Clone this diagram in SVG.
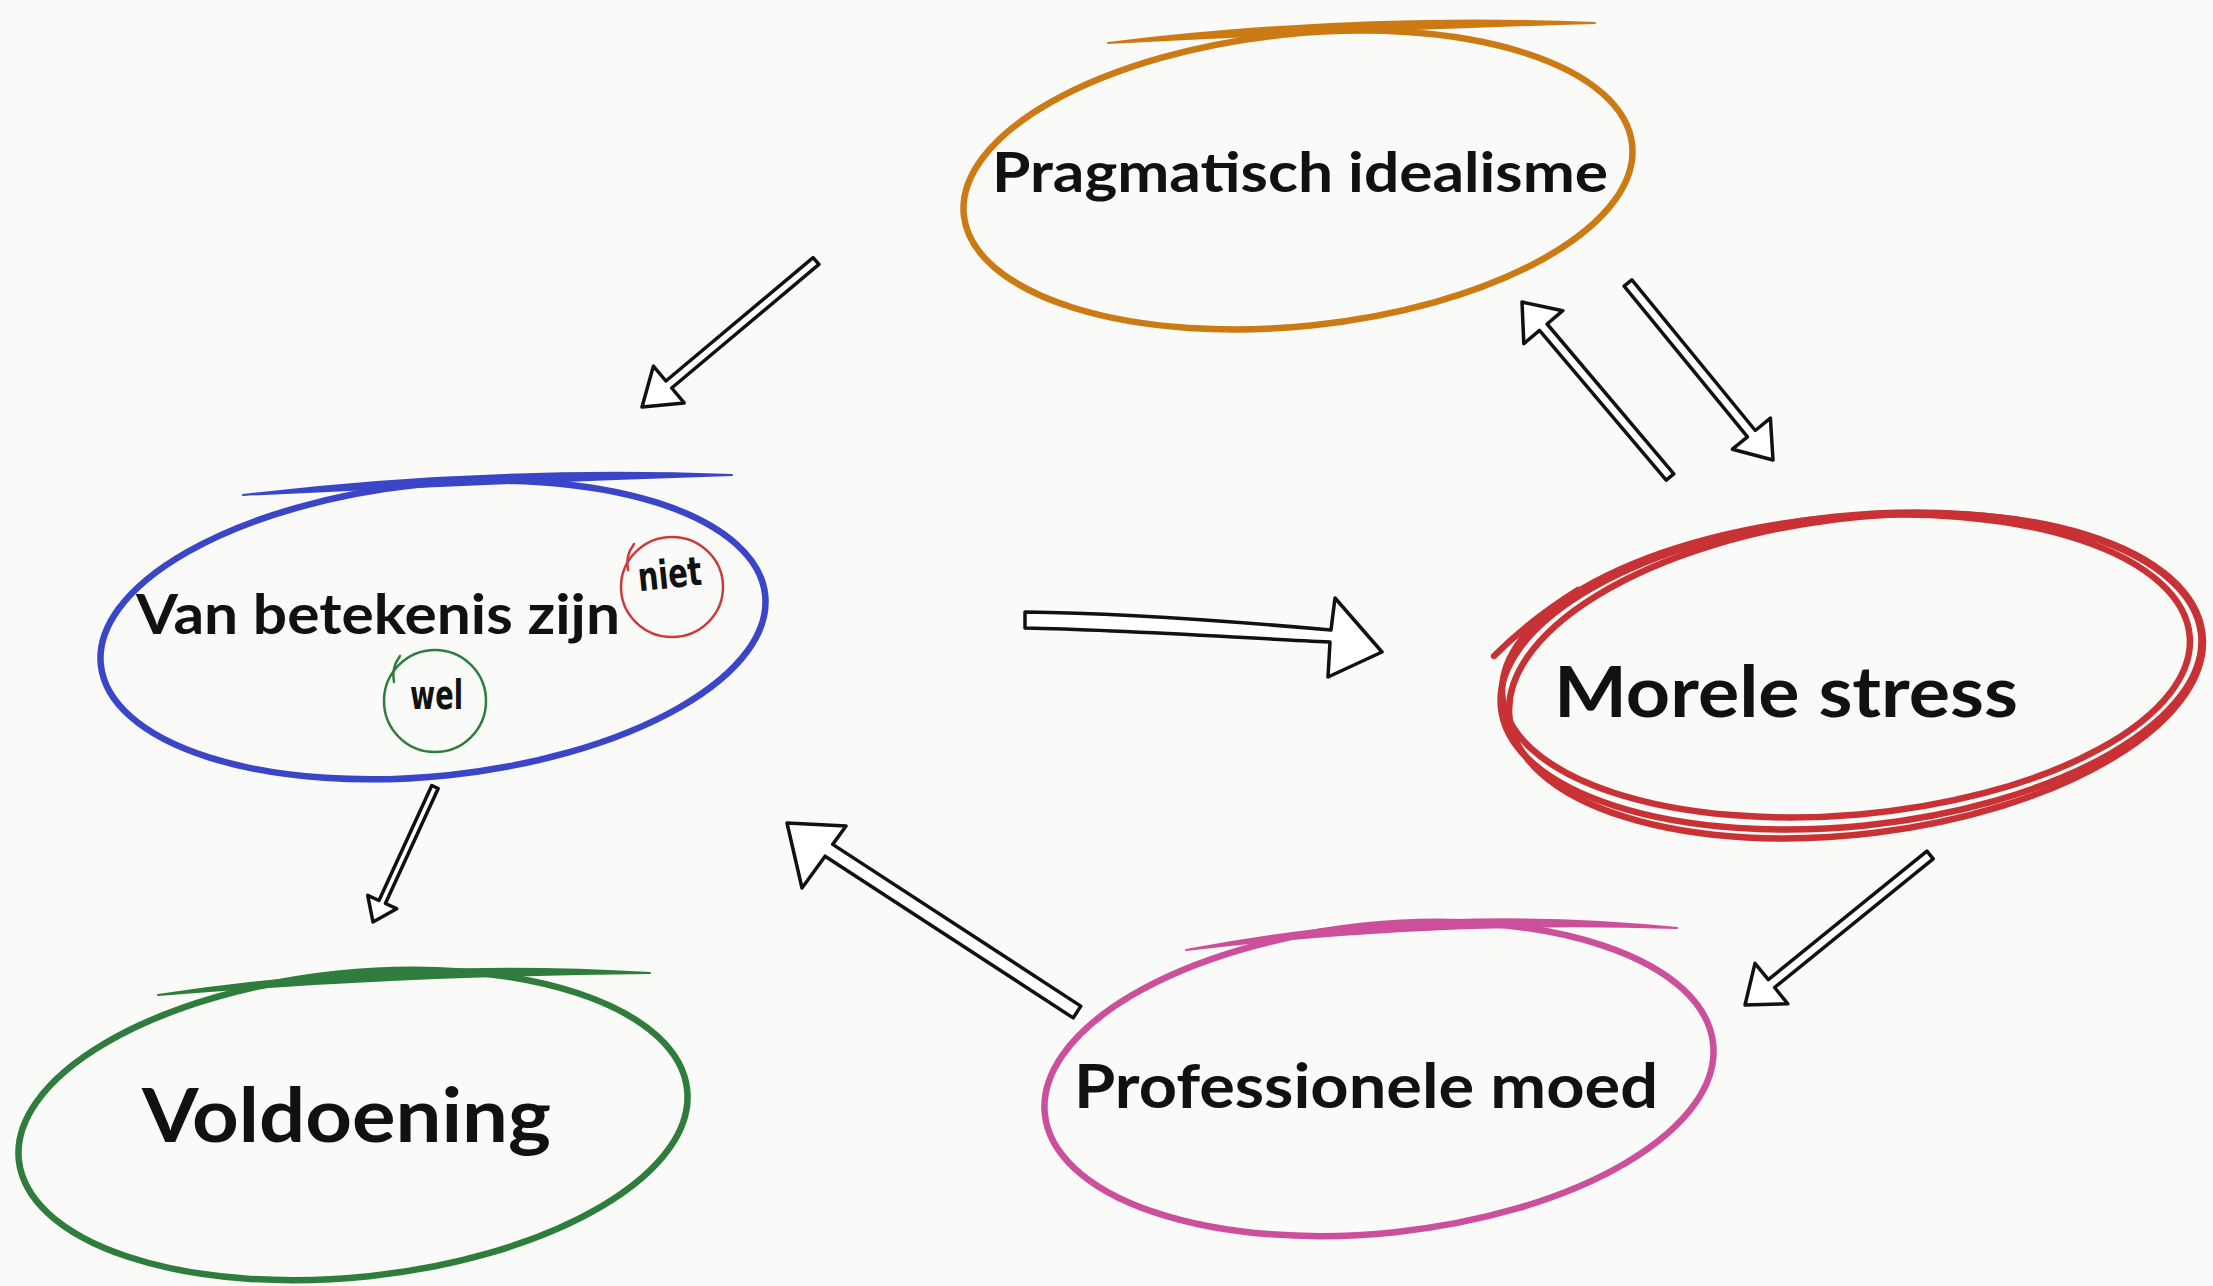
<svg xmlns="http://www.w3.org/2000/svg" width="2213" height="1286" viewBox="0 0 2213 1286">
<defs>
<style>
.loop{fill:none;stroke-width:6.5;stroke-linecap:round}
.fl{stroke-width:2;stroke-linejoin:round}
.lbl{font-family:Lato,"Open Sans","Liberation Sans",sans-serif;font-weight:700;fill:#111}
.hand{font-family:"DejaVu Sans Condensed","DejaVu Sans","Liberation Sans",sans-serif;font-weight:700;fill:#111}
.arrow{fill:#fff;stroke:#111;stroke-width:3.5;stroke-linejoin:round}
.small{fill:none;stroke-width:2.5;stroke-linecap:round}
</style>
</defs>
<rect width="2213" height="1286" fill="#fafaf9"/>

<g id="connectors">
<path class="arrow" d="M813.1,257.6 L665.9,381 L653.4,366.1 L642,407 L684.2,402.9 L671.7,388 L818.9,264.4 Z"/>
<path class="arrow" d="M1673.8,473.8 L1547.1,324 L1562.8,310.7 L1522,302 L1523.8,343.7 L1539.5,330.4 L1666.2,480.2 Z"/>
<path class="arrow" d="M1631.9,279.8 L1755.3,430.5 L1770.4,418.2 L1773,460 L1732.4,449.2 L1747.5,436.9 L1624.1,286.2 Z"/>
<path class="arrow" d="M1025,612 C1130,613 1240,622 1331,630 L1335,598 L1382,652 L1328,677 L1330,642 C1240,638 1130,630 1025,628 Z"/>
<path class="arrow" d="M1080.8,1006.1 L832.7,844.4 L846,826 L787,823 L802,888 L825.1,856.2 L1073.2,1017.9 Z"/>
<path class="arrow" d="M1933.2,858.9 L1774.6,987.5 L1787.8,1003.8 L1745,1005 L1755,963.4 L1768.3,979.7 L1926.9,851.1 Z"/>
<path class="arrow" d="M438.2,788.5 L385.4,903.5 L396.7,908.7 L373,922 L367.7,895.3 L379,900.5 L431.8,785.5 Z"/>
</g>

<g id="pragmatisch-idealisme">
<ellipse class="loop" cx="1298" cy="180" rx="336" ry="146" transform="rotate(-6 1298 180)" stroke="#cc7a14"/>
<path class="fl" fill="#cc7a14" stroke="#cc7a14" d="M1108,43 Q1352,13 1595,23 Q1352,30 1108,43 Z"/>
<text class="lbl" x="992" y="192" font-size="56" textLength="616" lengthAdjust="spacingAndGlyphs">Pragmatisch idealisme</text>
</g>

<g id="van-betekenis-zijn">
<ellipse class="loop" cx="433" cy="630" rx="334" ry="146" transform="rotate(-6 433 630)" stroke="#3a45c8"/>
<path class="fl" fill="#3a45c8" stroke="#3a45c8" d="M243,495 Q486,466 732,475 Q486,483 243,495 Z"/>
<text class="lbl" x="136" y="634" font-size="56" textLength="484" lengthAdjust="spacingAndGlyphs">Van betekenis zijn</text>
<g id="niet">
<ellipse class="small" cx="672" cy="587" rx="51" ry="50" stroke="#cc3b3b"/>
<path class="small" stroke="#cc3b3b" d="M634,544 Q625,556 628,570"/>
<text class="hand" x="638" y="588" font-size="40" textLength="64" lengthAdjust="spacingAndGlyphs" transform="rotate(-6 670 578)">niet</text>
</g>
<g id="wel">
<ellipse class="small" cx="435" cy="701" rx="51" ry="51" stroke="#2e7d3c"/>
<path class="small" stroke="#2e7d3c" d="M400,656 Q391,668 394,682"/>
<text class="hand" x="410" y="709" font-size="40" textLength="53" lengthAdjust="spacingAndGlyphs">wel</text>
</g>
</g>

<g id="morele-stress">
<ellipse class="loop" cx="1851" cy="671" rx="352" ry="155" transform="rotate(-6 1851 671)" stroke="#c93235" stroke-width="5"/>
<ellipse class="loop" cx="1846" cy="666" rx="345" ry="149" transform="rotate(-5 1846 666)" stroke="#c93235" stroke-width="4.5"/>
<ellipse class="loop" cx="1856" cy="676" rx="349" ry="158" transform="rotate(-7 1856 676)" stroke="#c93235" stroke-width="4.5"/>
<path class="loop" stroke="#c93235" stroke-width="5" d="M1494,656 Q1530,620 1578,590"/>
<text class="lbl" x="1554" y="717" font-size="70" textLength="464" lengthAdjust="spacingAndGlyphs">Morele stress</text>
</g>

<g id="voldoening">
<ellipse class="loop" cx="353" cy="1125" rx="336" ry="152" transform="rotate(-6 353 1125)" stroke="#2f7d3c"/>
<path class="fl" fill="#2f7d3c" stroke="#2f7d3c" d="M158,995 Q404,958 650,973 Q404,975 158,995 Z"/>
<text class="lbl" x="142" y="1142" font-size="74" textLength="409" lengthAdjust="spacingAndGlyphs">Voldoening</text>
</g>

<g id="professionele-moed">
<ellipse class="loop" cx="1379" cy="1079" rx="336" ry="154" transform="rotate(-6 1379 1079)" stroke="#cc4f9b"/>
<path class="fl" fill="#cc4f9b" stroke="#cc4f9b" d="M1186,950 Q1431,903 1677,928 Q1431,920 1186,950 Z"/>
<text class="lbl" x="1074" y="1108" font-size="62" textLength="584" lengthAdjust="spacingAndGlyphs">Professionele moed</text>
</g>
</svg>
